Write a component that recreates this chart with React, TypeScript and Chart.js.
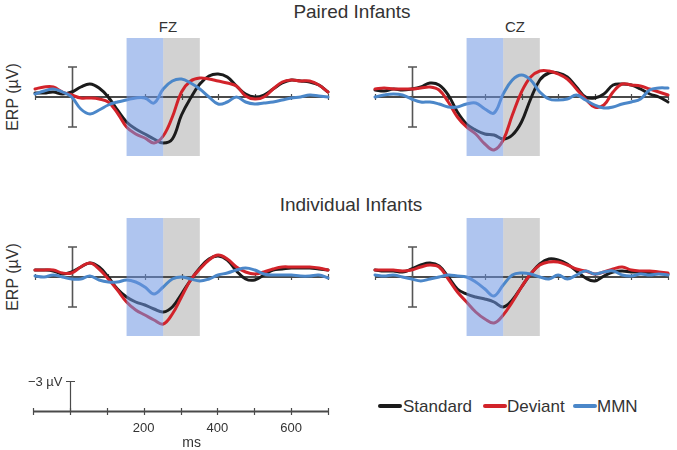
import React, { useEffect, useRef } from "react";
import { Chart, registerables } from "chart.js";

Chart.register(...registerables);

// ---------- data ----------
const TIMES = [
  -100, -75, -50, -25, 0, 25, 50, 75, 100, 125, 150, 175, 200, 225, 250, 275, 300,
  325, 350, 375, 400, 425, 450, 475, 500, 525, 550, 575, 600, 625, 650, 675, 700,
];

// µV, positive values plotted downward (negative up, as in the scale bar)
const PAIRED_FZ_STANDARD = [-0.4, -0.4, -0.5, -0.3, -0.5, -1.0, -1.3, -0.9, 0.0, 1.3, 2.5, 3.2, 3.7, 4.2, 4.6, 4.2, 1.8, 0.1, -1.3, -2.1, -2.3, -2.0, -1.1, -0.3, 0.0, -0.2, -0.8, -1.4, -1.7, -1.6, -1.5, -1.2, -0.5];
const PAIRED_FZ_DEVIANT = [-0.8, -1.0, -1.0, -0.5, -0.2, 0.1, 0.1, 0.2, 0.5, 1.6, 3.0, 3.7, 4.1, 4.6, 3.9, 2.0, -0.5, -1.6, -1.9, -1.8, -1.6, -1.4, -1.1, -0.1, 0.2, 0.0, -0.8, -1.5, -1.7, -1.6, -1.6, -1.2, -0.5];
const PAIRED_FZ_MMN = [-0.3, -0.6, -0.8, -0.5, 0.0, 1.2, 1.7, 1.3, 0.8, 0.5, 0.3, 0.1, 0.1, 0.6, -0.8, -1.6, -1.8, -1.4, -0.8, 0.0, 0.7, 0.5, 0.0, 0.5, 0.7, 0.6, 0.5, 0.3, 0.1, 0.0, -0.2, -0.1, 0.0];

const PAIRED_CZ_STANDARD = [-0.7, -0.6, -0.8, -0.7, -0.8, -1.0, -1.4, -1.2, -0.2, 1.5, 2.7, 3.3, 3.7, 3.8, 4.2, 3.8, 2.5, 0.2, -1.7, -2.4, -2.4, -2.0, -1.0, 0.0, 0.1, -0.3, -1.2, -1.3, -1.2, -0.8, -0.3, 0.0, 0.5];
const PAIRED_CZ_DEVIANT = [-0.8, -0.9, -0.8, -0.8, -0.8, -0.9, -1.0, -0.7, 0.5, 2.0, 3.0, 3.7, 4.7, 5.3, 4.3, 1.8, -0.5, -2.0, -2.6, -2.6, -2.3, -1.8, -0.8, 0.2, 1.0, 0.8, -0.5, -1.3, -1.2, -1.1, -0.8, -0.5, -0.2];
const PAIRED_CZ_MMN = [0.0, -0.2, -0.3, -0.2, 0.2, 0.5, 0.5, 0.7, 1.0, 1.0, 0.7, 0.6, 1.2, 1.6, -0.3, -1.7, -2.2, -1.7, -0.5, 0.2, 0.3, 0.2, -0.2, 0.3, 0.8, 1.1, 1.0, 0.7, 0.5, 0.2, -0.7, -0.9, -0.9];

const INDIV_FZ_STANDARD = [-0.7, -0.7, -0.6, -0.3, -0.5, -1.0, -1.4, -1.0, 0.0, 1.2, 2.0, 2.5, 2.8, 3.2, 3.5, 3.0, 1.7, 0.3, -0.9, -1.8, -2.1, -1.7, -0.6, 0.2, 0.3, -0.2, -0.7, -0.8, -0.9, -0.9, -0.9, -0.8, -0.7];
const INDIV_FZ_DEVIANT = [-0.7, -0.7, -0.7, -0.4, -0.4, -1.0, -1.4, -0.8, 0.2, 1.3, 2.5, 3.3, 3.8, 4.3, 4.7, 3.7, 2.0, 0.3, -0.8, -1.7, -2.2, -1.8, -1.0, -0.5, -0.3, -0.5, -0.8, -1.0, -1.0, -1.0, -1.0, -0.9, -0.7];
const INDIV_FZ_MMN = [-0.1, 0.0, -0.2, 0.0, 0.2, 0.2, -0.1, 0.3, 0.5, 0.5, 0.3, 0.5, 1.0, 1.7, 1.0, 0.2, 0.0, 0.2, 0.4, 0.2, -0.2, -0.4, -0.7, -0.9, -0.7, -0.3, -0.2, -0.2, -0.2, -0.1, -0.1, -0.2, 0.1];

const INDIV_CZ_STANDARD = [-0.7, -0.6, -0.6, -0.5, -0.8, -1.2, -1.4, -1.1, 0.0, 1.2, 1.7, 2.0, 2.2, 2.5, 3.0, 2.3, 1.0, -0.3, -1.3, -1.8, -1.7, -1.3, -0.6, 0.1, 0.4, -0.1, -0.5, -0.6, -0.5, -0.5, -0.4, -0.4, -0.3];
const INDIV_CZ_DEVIANT = [-0.7, -0.7, -0.7, -0.6, -0.7, -1.0, -1.2, -1.0, 0.2, 1.5, 2.5, 3.5, 4.2, 4.6, 3.8, 2.5, 1.0, -0.3, -1.2, -1.5, -1.5, -1.2, -0.8, -0.6, -0.3, -0.5, -0.8, -1.0, -0.7, -0.6, -0.6, -0.5, -0.4];
const INDIV_CZ_MMN = [-0.2, -0.1, -0.2, 0.0, 0.2, 0.4, 0.2, 0.0, -0.2, -0.1, 0.0, 0.5, 1.2, 1.9, 0.8, -0.2, -0.4, -0.3, 0.0, 0.2, -0.2, 0.2, -0.2, -0.6, -0.3, -0.5, -0.6, -0.2, -0.1, -0.3, -0.2, -0.3, -0.2];

const AXIS_TICKS = [-100, 0, 100, 200, 300, 400, 500, 600, 700];
const TICK_LABELS = [200, 400, 600];
const BLUE_WINDOW = [150, 250];
const GRAY_WINDOW = [250, 350];
const WINDOW_HALF = 5.9; // µV vertical extent of the shaded windows
const SCALE_BAR = 3; // µV
const SERIES_NAMES = ["Standard", "Deviant", "MMN"];

// ---------- styles ----------
const FONT = '"Liberation Sans", Arial, Helvetica, sans-serif';
const TEXT_COLOR = "#333";
const AXIS_COLOR = "#4a4a4a";
const COLORS = ["#1b1b1b", "#d2232a", "#4b87c9"];

const toPts = (vals: number[]) => TIMES.map((t, i) => ({ x: t, y: vals[i] }));

const panelPlugin = {
  id: "erpPanel",
  beforeDatasetsDraw(chart: any) {
    const { ctx } = chart;
    const x = chart.scales.x;
    const y = chart.scales.y;
    ctx.save();
    const yTop = y.getPixelForValue(-WINDOW_HALF);
    const yBot = y.getPixelForValue(WINDOW_HALF);
    const gx0 = x.getPixelForValue(GRAY_WINDOW[0]);
    const gx1 = x.getPixelForValue(GRAY_WINDOW[1]);
    ctx.fillStyle = "#d2d2d2";
    ctx.fillRect(gx0, yTop, gx1 - gx0, yBot - yTop);
    const y0 = y.getPixelForValue(0);
    ctx.strokeStyle = AXIS_COLOR;
    ctx.lineWidth = 2;
    ctx.beginPath();
    ctx.moveTo(x.getPixelForValue(AXIS_TICKS[0]), y0);
    ctx.lineTo(x.getPixelForValue(AXIS_TICKS[AXIS_TICKS.length - 1]), y0);
    ctx.stroke();
    ctx.lineWidth = 1.2;
    AXIS_TICKS.forEach((t) => {
      const px = Math.round(x.getPixelForValue(t)) + 0.5;
      ctx.beginPath();
      ctx.moveTo(px, y0 - 3);
      ctx.lineTo(px, y0 + 3);
      ctx.stroke();
    });
    const bx = Math.round(x.getPixelForValue(0)) + 0.5;
    const b0 = y.getPixelForValue(-SCALE_BAR);
    const b1 = y.getPixelForValue(SCALE_BAR);
    ctx.strokeStyle = "#555";
    ctx.lineWidth = 1.6;
    ctx.beginPath();
    ctx.moveTo(bx, b0);
    ctx.lineTo(bx, b1);
    ctx.moveTo(bx - 4.5, b0);
    ctx.lineTo(bx + 4.5, b0);
    ctx.moveTo(bx - 4.5, b1);
    ctx.lineTo(bx + 4.5, b1);
    ctx.stroke();
    ctx.restore();
  },
  afterDatasetsDraw(chart: any) {
    const { ctx } = chart;
    const x = chart.scales.x;
    const y = chart.scales.y;
    const yTop = y.getPixelForValue(-WINDOW_HALF);
    const yBot = y.getPixelForValue(WINDOW_HALF);
    const bx0 = x.getPixelForValue(BLUE_WINDOW[0]);
    const bx1 = x.getPixelForValue(BLUE_WINDOW[1]);
    ctx.save();
    ctx.fillStyle = "rgba(110,150,225,0.55)";
    ctx.fillRect(bx0, yTop, bx1 - bx0, yBot - yTop);
    ctx.restore();
  },
};

const PANEL_W = 313;
const PANEL_H = 140;

function Panel({ left, top, series }: { left: number; top: number; series: number[][] }) {
  const ref = useRef<HTMLCanvasElement | null>(null);
  useEffect(() => {
    if (!ref.current) return;
    const chart = new Chart(ref.current, {
      type: "line",
      data: {
        datasets: series.map((vals, i) => ({
          label: SERIES_NAMES[i],
          data: toPts(vals),
          borderColor: COLORS[i],
          borderWidth: 3,
          pointRadius: 0,
          tension: 0.4,
          fill: false,
          clip: false as any,
          order: 3 - i,
        })),
      },
      options: {
        animation: false,
        responsive: false,
        events: [],
        layout: { padding: { left: 10, right: 10, top: 0, bottom: 0 } },
        plugins: { legend: { display: false }, tooltip: { enabled: false } },
        elements: { line: { borderCapStyle: "round", borderJoinStyle: "round" } },
        scales: {
          x: { type: "linear", min: -100, max: 700, display: false },
          y: { type: "linear", min: -7, max: 7, reverse: true, display: false },
        },
      },
      plugins: [panelPlugin],
    } as any);
    return () => chart.destroy();
  }, []);
  return (
    <canvas
      ref={ref}
      width={PANEL_W}
      height={PANEL_H}
      style={{ position: "absolute", left, top, width: PANEL_W, height: PANEL_H }}
    />
  );
}

const scaleAxisPlugin = {
  id: "scaleAxis",
  afterDraw(chart: any) {
    const { ctx } = chart;
    const x = chart.scales.x;
    const y = chart.scales.y;
    const y0 = Math.round(y.getPixelForValue(0)) + 0.5;
    ctx.save();
    ctx.strokeStyle = AXIS_COLOR;
    ctx.lineWidth = 1.8;
    ctx.beginPath();
    ctx.moveTo(x.getPixelForValue(AXIS_TICKS[0]), y0);
    ctx.lineTo(x.getPixelForValue(AXIS_TICKS[AXIS_TICKS.length - 1]), y0);
    ctx.stroke();
    ctx.lineWidth = 1.2;
    AXIS_TICKS.forEach((t) => {
      const px = Math.round(x.getPixelForValue(t)) + 0.5;
      ctx.beginPath();
      ctx.moveTo(px, y0 - 3.5);
      ctx.lineTo(px, y0 + 3.5);
      ctx.stroke();
    });
    const bx = Math.round(x.getPixelForValue(0)) + 0.5;
    const bt = Math.round(y.getPixelForValue(-SCALE_BAR)) + 0.5;
    ctx.beginPath();
    ctx.moveTo(bx, y0);
    ctx.lineTo(bx, bt);
    ctx.moveTo(bx - 4.5, bt);
    ctx.lineTo(bx + 4.5, bt);
    ctx.stroke();
    ctx.fillStyle = TEXT_COLOR;
    ctx.font = `13px ${FONT}`;
    ctx.textAlign = "right";
    ctx.textBaseline = "middle";
    ctx.fillText("\u22123 \u00b5V", bx - 8, bt + 1);
    ctx.font = `14px ${FONT}`;
    ctx.textAlign = "center";
    ctx.fillText("ms", x.getPixelForValue(330), y0 + 32);
    ctx.restore();
  },
};

function ScaleAxis() {
  const ref = useRef<HTMLCanvasElement | null>(null);
  useEffect(() => {
    if (!ref.current) return;
    const chart = new Chart(ref.current, {
      type: "line",
      data: { datasets: [] },
      options: {
        animation: false,
        responsive: false,
        events: [],
        layout: { padding: { left: 10, right: 10, top: 0, bottom: 0 } },
        plugins: { legend: { display: false }, tooltip: { enabled: false } },
        scales: {
          x: {
            type: "linear",
            min: -100,
            max: 700,
            position: "bottom",
            grid: { display: false, drawTicks: false },
            border: { display: false },
            ticks: {
              stepSize: 100,
              autoSkip: false,
              maxRotation: 0,
              padding: 10,
              color: TEXT_COLOR,
              font: { family: FONT, size: 13 },
              callback: (v: any) => (TICK_LABELS.includes(Number(v)) ? String(v) : ""),
            },
            afterFit: (s: any) => {
              s.height = 39;
            },
          },
          y: { type: "linear", min: -4.1, max: 0, reverse: true, display: false },
        },
      },
      plugins: [scaleAxisPlugin],
    } as any);
    return () => chart.destroy();
  }, []);
  return (
    <canvas
      ref={ref}
      width={315}
      height={80}
      style={{ position: "absolute", left: 23, top: 370, width: 315, height: 80 }}
    />
  );
}

const abs = (extra: React.CSSProperties): React.CSSProperties => ({
  position: "absolute",
  whiteSpace: "nowrap",
  ...extra,
});

export default function App() {
  return (
    <div
      style={{
        position: "fixed",
        left: 0,
        top: 0,
        width: 677,
        height: 450,
        background: "#fff",
        fontFamily: FONT,
        color: TEXT_COLOR,
        overflow: "hidden",
      }}
    >
      <div style={abs({ left: 352, top: 2, fontSize: 19, lineHeight: "19px", transform: "translateX(-50%)" })}>
        Paired Infants
      </div>
      <div style={abs({ left: 351, top: 195, fontSize: 19, lineHeight: "19px", transform: "translateX(-50%)" })}>
        Individual Infants
      </div>
      <div style={abs({ left: 168, top: 19, fontSize: 15, lineHeight: "15px", transform: "translateX(-50%)" })}>FZ</div>
      <div style={abs({ left: 515, top: 19, fontSize: 15, lineHeight: "15px", transform: "translateX(-50%)" })}>CZ</div>
      {[97, 277].map((cy) => (
        <div
          key={cy}
          style={abs({
            left: 13,
            top: cy,
            fontSize: 16,
            lineHeight: "16px",
            transform: "translate(-50%, -50%) rotate(-90deg)",
          })}
        >
          ERP (µV)
        </div>
      ))}

      <Panel left={25} top={27} series={[PAIRED_FZ_STANDARD, PAIRED_FZ_DEVIANT, PAIRED_FZ_MMN]} />
      <Panel left={365} top={27} series={[PAIRED_CZ_STANDARD, PAIRED_CZ_DEVIANT, PAIRED_CZ_MMN]} />
      <Panel left={25} top={207} series={[INDIV_FZ_STANDARD, INDIV_FZ_DEVIANT, INDIV_FZ_MMN]} />
      <Panel left={365} top={207} series={[INDIV_CZ_STANDARD, INDIV_CZ_DEVIANT, INDIV_CZ_MMN]} />

      <ScaleAxis />

      {[
        { lx: 378, tx: 403 },
        { lx: 483, tx: 507 },
        { lx: 573, tx: 597 },
      ].map((p, i) => (
        <React.Fragment key={i}>
          <div
            style={abs({ left: p.lx, top: 404, width: 24, height: 4, borderRadius: 2, background: COLORS[i] })}
          />
          <div style={abs({ left: p.tx, top: 398, fontSize: 17, lineHeight: "17px" })}>{SERIES_NAMES[i]}</div>
        </React.Fragment>
      ))}
    </div>
  );
}
